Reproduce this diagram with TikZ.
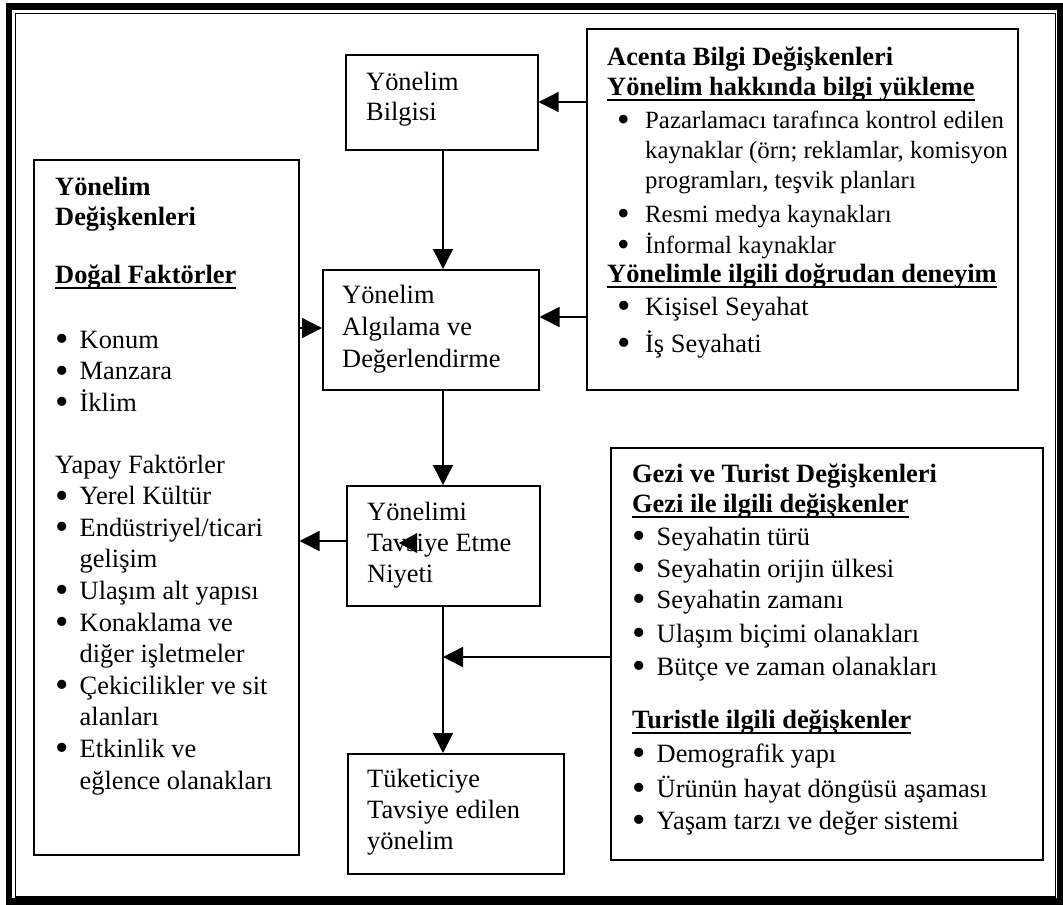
\documentclass[tikz,border=0pt]{standalone}
\usepackage{fontspec}
\setmainfont{Liberation Serif}
\usetikzlibrary{arrows.meta}

% underline drawn just below the baseline (descenders cross it)
\newcommand\ulinetext[1]{\setbox0\hbox{#1}\rlap{\rule[-6pt]{\wd0}{2pt}}\box0}
% a round bullet, a little larger than the text bullet
\newcommand\dotb{\smash{\raisebox{-3.5pt}{\scalebox{1.45}{\textbullet}}}}
% bullets and hanging indents
\newcommand\bulA{\hspace*{10pt}\makebox[28pt][l]{\dotb}}
\newcommand\indA{\hspace*{38pt}}
\newcommand\bulB{\makebox[24.5pt][l]{\dotb}}
\newcommand\indB{\hspace*{24.5pt}}
% slightly smaller type for the source list
\newcommand\smallsz{\fontsize{24.8}{30}\selectfont}
% fixed-height strut so that the first baseline lies 25pt under the node top
\newcommand\firstl{\rule{0pt}{25pt}}

\begin{document}
\begin{tikzpicture}[x=1pt,y=-1pt,
  box/.style={draw, line width=1.5pt, inner sep=0pt, anchor=north west},
  txt/.style={anchor=north west, inner sep=0pt, align=left},
  arr/.style={-{Triangle[length=20pt,width=20pt]}, line width=1.4pt}]
\useasboundingbox (0,0) rectangle (1063,905);

% double page frame
\draw[line width=6.5pt] (9,6.5) rectangle (1060,901.5);
\draw[line width=1.2pt] (15.5,13.5) rectangle (1055.5,897);

% boxes
\node[box, minimum width=192pt, minimum height=95pt]  (bilgisi)  at (345,54)  {};
\node[box, minimum width=216pt, minimum height=120pt] (algi)     at (322,269) {};
\node[box, minimum width=193pt, minimum height=120pt] (tavsiye)  at (346,485) {};
\node[box, minimum width=216pt, minimum height=120pt] (tuketici) at (347,753) {};
\node[box, minimum width=431pt, minimum height=361pt] (acenta)   at (586,28)  {};
\node[box, minimum width=432pt, minimum height=412pt] (gezi)     at (610,447) {};
\node[box, minimum width=265pt, minimum height=695pt] (yondeg)   at (33,159)  {};

% texts of the central boxes
\node[txt, font=\fontsize{26.4}{30}\selectfont] (bilgisiT) at (366,65)
  {\firstl Yönelim\\Bilgisi};
\node[txt, font=\fontsize{26.4}{32}\selectfont] (algiT) at (342,278)
  {\firstl Yönelim\\Algılama ve\\Değerlendirme};
\node[txt, font=\fontsize{26.4}{31}\selectfont] (tavsiyeT) at (367,495)
  {\firstl Yönelimi\\Tavsiye Etme\\Niyeti};
\node[txt, font=\fontsize{26.4}{31}\selectfont] (tuketiciT) at (367,762)
  {\firstl Tüketiciye\\Tavsiye edilen\\yönelim};

% agency variables
\node[txt, font=\fontsize{26.4}{30}\selectfont] (acentaT) at (607,40)
  {\firstl\textbf{Acenta Bilgi Değişkenleri}\\
   \textbf{\ulinetext{Yönelim hakkında bilgi yükleme}}\\[3pt]
   {\smallsz\bulA Pazarlamacı tarafınca kontrol edilen}\\
   {\smallsz\indA kaynaklar (örn; reklamlar, komisyon}\\
   {\smallsz\indA programları, teşvik planları}\\[4pt]
   {\smallsz\bulA Resmi medya kaynakları}\\[1pt]
   {\smallsz\bulA İnformal kaynaklar}\\[-1pt]
   \textbf{\ulinetext{Yönelimle ilgili doğrudan deneyim}}\\[3pt]
   \bulA Kişisel Seyahat\\[7pt]
   \bulA İş Seyahati};

% trip and tourist variables
\node[txt, font=\fontsize{26.4}{30}\selectfont] (geziT) at (632,457)
  {\firstl\textbf{Gezi ve Turist Değişkenleri}\\
   \textbf{\ulinetext{Gezi ile ilgili değişkenler}}\\[3pt]
   \bulB Seyahatin türü\\[2pt]
   \bulB Seyahatin orijin ülkesi\\[1pt]
   \bulB Seyahatin zamanı\\[4pt]
   \bulB Ulaşım biçimi olanakları\\[3pt]
   \bulB Bütçe ve zaman olanakları\\[23pt]
   \textbf{\ulinetext{Turistle ilgili değişkenler}}\\[4pt]
   \bulB Demografik yapı\\[5pt]
   \bulB Ürünün hayat döngüsü aşaması\\[2pt]
   \bulB Yaşam tarzı ve değer sistemi};

% destination variables
\node[txt, font=\fontsize{26.4}{31.6}\selectfont] (yondegT) at (55,170)
  {\firstl\textbf{Yönelim}\\[-1.6pt]
   \textbf{Değişkenleri}\\[26.4pt]
   \textbf{\ulinetext{Doğal Faktörler}}\\[33.4pt]
   \bulB Konum\\
   \bulB Manzara\\
   \bulB İklim\\[30pt]
   Yapay Faktörler\\
   \bulB Yerel Kültür\\
   \bulB Endüstriyel/ticari\\
   \indB gelişim\\
   \bulB Ulaşım alt yapısı\\
   \bulB Konaklama ve\\
   \indB diğer işletmeler\\
   \bulB Çekicilikler ve sit\\
   \indB alanları\\
   \bulB Etkinlik ve\\
   \indB eğlence olanakları};

% connectors
\coordinate (spine) at (443,0);
\coordinate (yA) at (0,102);
\coordinate (yB) at (0,317);
\coordinate (yC) at (0,328);
\coordinate (yD) at (0,541);
\coordinate (yE) at (0,657);
\draw[arr] (bilgisi.south -| spine) -- (algi.north -| spine);
\draw[arr] (algi.south -| spine) -- (tavsiye.north -| spine);
\draw[arr] (tavsiye.south -| spine) -- (tuketici.north -| spine);
\draw[arr] (acenta.west |- yA) -- (bilgisi.east |- yA);
\draw[arr] (acenta.west |- yB) -- (algi.east |- yB);
\draw[arr] (yondeg.east |- yC) -- (algi.west |- yC);
\draw[arr] (tavsiye.west |- yD) -- (yondeg.east |- yD);
\draw[arr] (gezi.west |- yE) -- (spine |- yE);

% stray arrow head lying over the word "Tavsiye"
\fill (399,543) -- (417,533) -- (417,553) -- cycle;
\end{tikzpicture}
\end{document}
